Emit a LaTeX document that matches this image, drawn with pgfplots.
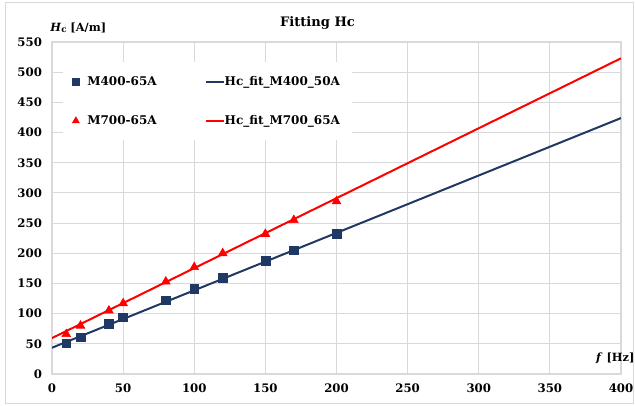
\documentclass[border=0pt]{standalone}
\usepackage{fontspec}
\setmainfont{DejaVu Serif}
\usepackage{pgfplots}
\pgfplotsset{compat=1.18}
\pgfplotsset{shortline/.style={legend image code/.code={\draw[##1] (0pt,0pt) -- (14pt,0pt);}}}
\definecolor{navy}{HTML}{203864}
\definecolor{gridc}{HTML}{D9D9D9}
\begin{document}
\begin{tikzpicture}
\path[use as bounding box] (0pt,0pt) rectangle (476.25pt,304.5pt);
\draw[gridc, line width=0.75pt] (3.75pt,1.5pt) rectangle (474.75pt,302.25pt);
\begin{axis}[at={(39pt,24pt)}, anchor=south west, scale only axis,
  width=426.75pt, height=249pt,
  xmin=0, xmax=400, ymin=0, ymax=550,
  xtick={0,50,...,400}, ytick={0,50,...,550},
  grid=major, grid style={gridc, line width=0.75pt},
  axis line style={gridc, line width=1pt},
  major tick length=0pt, tick style={draw=none},
  /pgf/number format/assume math mode=true,
  ticklabel style={font=\fontsize{8.8}{10}\selectfont\bfseries},
  xticklabel style={yshift=-4pt}, yticklabel style={xshift=-4pt},
  legend columns=2, legend cell align=left,
  legend style={at={(0.019,0.94)}, anchor=north west, draw=none, fill=white,
    font=\fontsize{9}{11}\selectfont\bfseries,
    /tikz/column 1/.style={column sep=4pt},
    /tikz/column 2/.style={column sep=34pt},
    /tikz/column 3/.style={column sep=-2.5pt},
    row sep=17pt, inner xsep=7pt, inner ysep=8.5pt},
]
\addplot[navy, line width=1.5pt, forget plot] coordinates {(0,43.5) (400,424)};
\addplot[red, line width=1.5pt, forget plot] coordinates {(0,59.5) (400,523)};
\addplot[only marks, mark=square*, mark size=3.3pt, navy, forget plot] coordinates {
(10,51) (20,61) (40,83) (50,94) (80,122) (100,141) (120,160) (150,187) (170,205) (200,232)};
\addplot[only marks, mark=triangle*, mark size=3.8pt, red, forget plot] coordinates {
(10,66) (20,80) (40,105) (50,117) (80,153) (100,177) (120,200) (150,232) (170,255) (200,286)};
\addlegendimage{only marks, mark=square*, mark size=2.6pt, navy}
\addlegendentry{M400-65A}
\addlegendimage{navy, line width=1.5pt, shortline}
\addlegendentry{Hc\_fit\_M400\_50A}
\addlegendimage{only marks, mark=triangle*, mark size=3pt, red}
\addlegendentry{M700-65A}
\addlegendimage{red, line width=1.5pt, shortline}
\addlegendentry{Hc\_fit\_M700\_65A}
\end{axis}
\node[anchor=base, font=\fontsize{9.8}{11}\selectfont\bfseries] at (238.1pt,284.3pt) {Fitting Hc};
\node[anchor=base west, inner sep=0pt, font=\fontsize{8.5}{10}\selectfont\bfseries] at (37.5pt,280.9pt) {\textit{H}\raisebox{-0.6pt}{\fontsize{6.5}{7}\selectfont c} [A/m]};
\node[anchor=base east, inner sep=0pt, font=\fontsize{8.5}{10}\selectfont\bfseries] at (476pt,33.5pt) {\textit{f} [Hz]};
\end{tikzpicture}
\end{document}
